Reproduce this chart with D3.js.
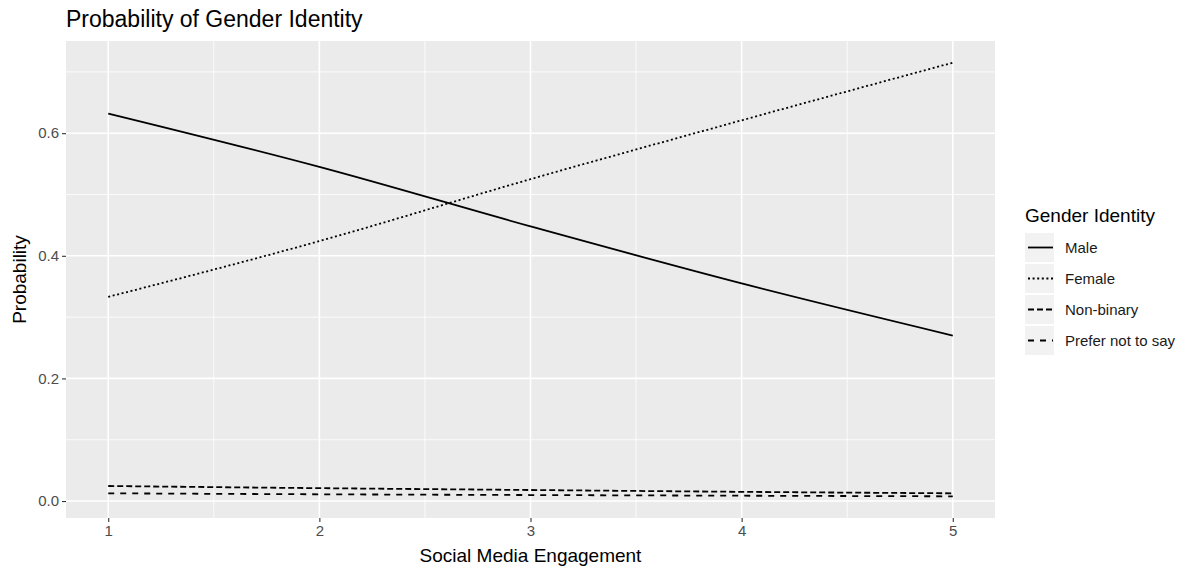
<!DOCTYPE html>
<html>
<head>
<meta charset="utf-8">
<script src="https://cdn.jsdelivr.net/npm/d3@7"></script>
<style>
  html, body { margin: 0; padding: 0; background: #ffffff; }
  svg { display: block; font-family: "Liberation Sans", Arial, Helvetica, sans-serif; }
</style>
</head>
<body>
<svg id="chart" width="1192" height="569"></svg>
<script>
// Predicted probability of each gender identity across engagement levels
const engagement = [1, 2, 3, 4, 5];
const male         = [0.632, 0.545, 0.448, 0.355, 0.270];
const female       = [0.333, 0.424, 0.525, 0.621, 0.715];
const nonBinary    = [0.0245, 0.021, 0.018, 0.015, 0.0126];
const preferNot    = [0.0126, 0.011, 0.0098, 0.0087, 0.0077];

const seriesNames = ["Male", "Female", "Non-binary", "Prefer not to say"];
const seriesValues = [male, female, nonBinary, preferNot];
const dashes = [null, "2,2.6", "6,3", "6,6"];

const xTicks = [1, 2, 3, 4, 5];
const xMinor = [1.5, 2.5, 3.5, 4.5];
const yTicks = [0.0, 0.2, 0.4, 0.6];
const yMinor = [0.1, 0.3, 0.5, 0.7];

const svg = d3.select("#chart");
const panel = { left: 66, right: 995, top: 41, bottom: 518 };

// ggplot-style 5% expansion of the data ranges
const xExt = d3.extent(engagement);
const xPad = (xExt[1] - xExt[0]) * 0.05;
const allY = seriesValues.flat();
const yExt = d3.extent(allY);
const yPad = (yExt[1] - yExt[0]) * 0.05;

const x = d3.scaleLinear().domain([xExt[0] - xPad, xExt[1] + xPad]).range([panel.left, panel.right]);
const y = d3.scaleLinear().domain([yExt[0] - yPad, yExt[1] + yPad]).range([panel.bottom, panel.top]);

// panel background
svg.append("rect")
  .attr("x", panel.left).attr("y", panel.top)
  .attr("width", panel.right - panel.left).attr("height", panel.bottom - panel.top)
  .attr("fill", "#ebebeb");

const grid = svg.append("g");
grid.selectAll(".ymin").data(yMinor.filter(v => y(v) >= panel.top)).join("line")
  .attr("x1", panel.left).attr("x2", panel.right)
  .attr("y1", d => y(d)).attr("y2", d => y(d))
  .attr("stroke", "#ffffff").attr("stroke-width", 0.8);
grid.selectAll(".xmin").data(xMinor).join("line")
  .attr("y1", panel.top).attr("y2", panel.bottom)
  .attr("x1", d => x(d)).attr("x2", d => x(d))
  .attr("stroke", "#ffffff").attr("stroke-width", 0.8);
grid.selectAll(".ymaj").data(yTicks).join("line")
  .attr("x1", panel.left).attr("x2", panel.right)
  .attr("y1", d => y(d)).attr("y2", d => y(d))
  .attr("stroke", "#ffffff").attr("stroke-width", 1.6);
grid.selectAll(".xmaj").data(xTicks).join("line")
  .attr("y1", panel.top).attr("y2", panel.bottom)
  .attr("x1", d => x(d)).attr("x2", d => x(d))
  .attr("stroke", "#ffffff").attr("stroke-width", 1.6);

// axes
const xAxis = d3.axisBottom(x).tickValues(xTicks).tickFormat(d3.format("d")).tickSize(4).tickPadding(3);
const yAxis = d3.axisLeft(y).tickValues(yTicks).tickFormat(d3.format(".1f")).tickSize(4).tickPadding(3);

const gx = svg.append("g").attr("transform", `translate(0,${panel.bottom})`).call(xAxis);
const gy = svg.append("g").attr("transform", `translate(${panel.left},0)`).call(yAxis);
[gx, gy].forEach(g => {
  g.select(".domain").remove();
  g.selectAll(".tick line").attr("stroke", "#333333").attr("stroke-width", 1.1);
  g.selectAll(".tick text").attr("fill", "#4d4d4d").style("font-size", "15px")
    .style("font-family", "'Liberation Sans', Arial, sans-serif");
});

// lines (smooth through the predicted points)
const line = d3.line().x((d, i) => x(engagement[i])).y(d => y(d)).curve(d3.curveMonotoneX);
svg.append("g").selectAll("path").data(seriesValues).join("path")
  .attr("d", d => line(d))
  .attr("fill", "none")
  .attr("stroke", "#000000")
  .attr("stroke-width", 1.8)
  .attr("stroke-dasharray", (d, i) => dashes[i]);

// titles
svg.append("text").attr("x", panel.left).attr("y", 27)
  .style("font-size", "23px").attr("fill", "#000000")
  .text("Probability of Gender Identity");

svg.append("text").attr("x", (panel.left + panel.right) / 2).attr("y", 562)
  .attr("text-anchor", "middle").style("font-size", "19px").attr("fill", "#000000")
  .text("Social Media Engagement");

svg.append("text")
  .attr("transform", `translate(26,${(panel.top + panel.bottom) / 2}) rotate(-90)`)
  .attr("text-anchor", "middle").style("font-size", "19px").attr("fill", "#000000")
  .text("Probability");

// legend
const legend = svg.append("g").attr("transform", "translate(1025,0)");
legend.append("text").attr("x", 0).attr("y", 222)
  .style("font-size", "19px").attr("fill", "#000000").text("Gender Identity");

const keyH = 31, keyTop = 233;
const keys = legend.selectAll(".key").data(seriesNames).join("g")
  .attr("transform", (d, i) => `translate(0,${keyTop + i * keyH})`);
keys.append("rect").attr("x", 0).attr("y", 0).attr("width", 29).attr("height", 29)
  .attr("fill", "#f2f2f2");
keys.append("line").attr("x1", 3).attr("x2", 28).attr("y1", 14.5).attr("y2", 14.5)
  .attr("stroke", "#000000").attr("stroke-width", 1.8)
  .attr("stroke-dasharray", (d, i) => dashes[i]);
keys.append("text").attr("x", 40).attr("y", 20)
  .style("font-size", "15px").attr("fill", "#1a1a1a").text(d => d);
</script>
</body>
</html>
